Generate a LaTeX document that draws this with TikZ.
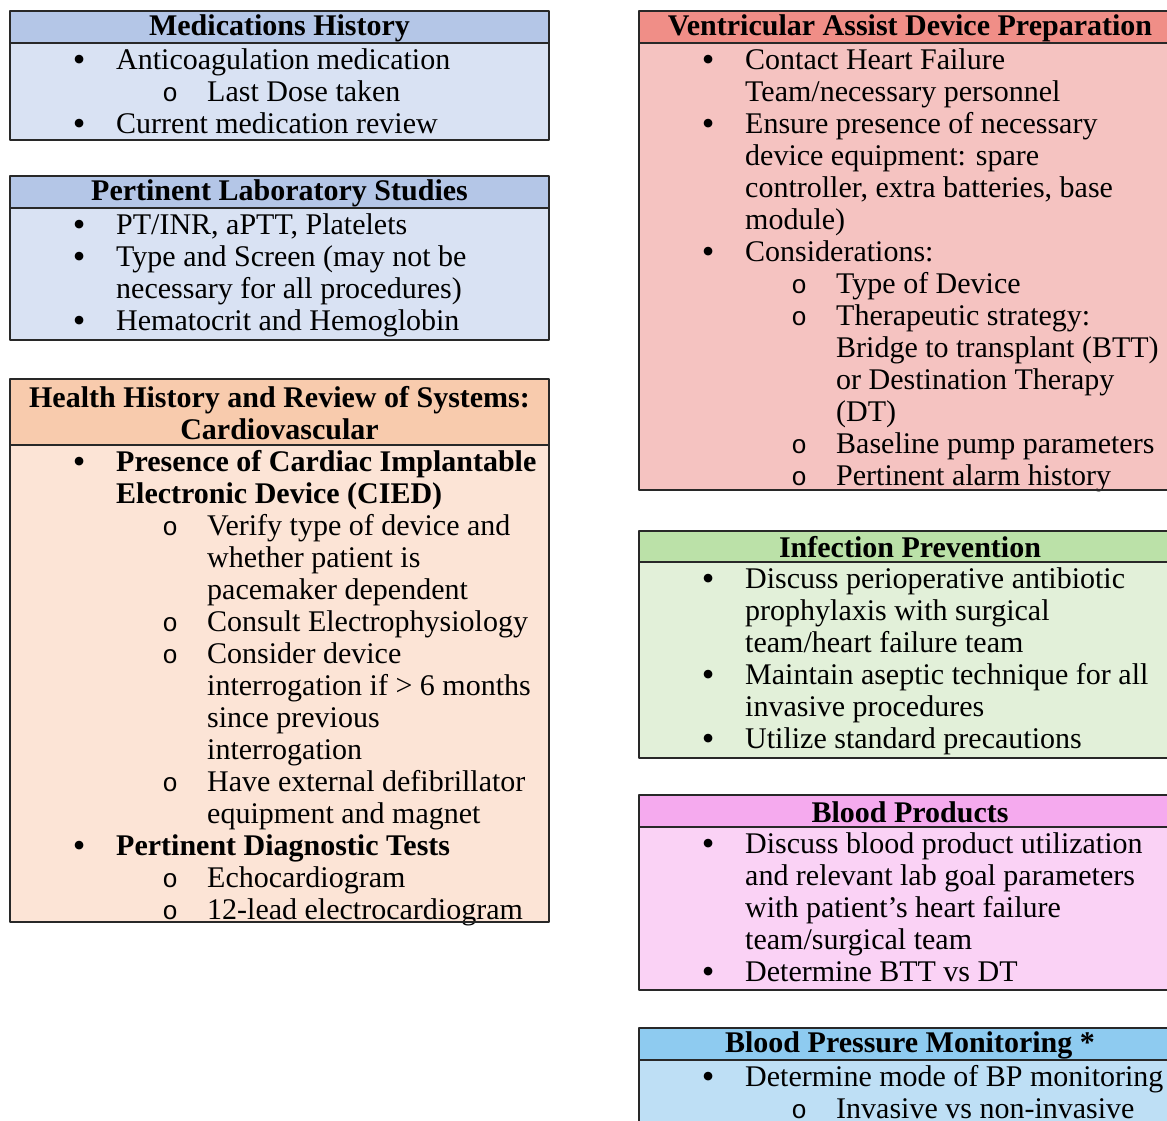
\documentclass[tikz,border=0pt]{standalone}
\usepackage{fontspec}
\setmainfont{Liberation Serif}
\newfontfamily\circfont{Liberation Mono}
\usetikzlibrary{positioning}
\definecolor{panel_line}{RGB}{40,40,40}
\definecolor{med_head}{HTML}{B4C6E7}
\definecolor{med_body}{HTML}{D9E2F3}
\definecolor{health_head}{HTML}{F8CBAD}
\definecolor{health_body}{HTML}{FCE4D6}
\definecolor{vad_head}{HTML}{F08E87}
\definecolor{vad_body}{HTML}{F5C3C1}
\definecolor{inf_head}{HTML}{BBE1A8}
\definecolor{inf_body}{HTML}{E2F0D9}
\definecolor{blood_head}{HTML}{F5AAEE}
\definecolor{blood_body}{HTML}{FAD2F5}
\definecolor{bp_head}{HTML}{8ECBF0}
\definecolor{bp_body}{HTML}{BEDFF5}
\newcommand\fl{\rule{0pt}{26pt}}
\newcommand\lvA[1]{\hspace*{69pt}\makebox[0pt]{\smash{\raisebox{-2.5pt}{\fontsize{36}{32}\selectfont\textbullet}}}\hspace*{37pt}#1}
\newcommand\lvAc[1]{\hspace*{106pt}#1}
\newcommand\lvB[1]{\hspace*{160pt}\makebox[0pt]{\circfont\fontsize{26}{26}\selectfont o}\hspace*{37pt}#1}
\newcommand\lvBc[1]{\hspace*{197pt}#1}
\tikzset{
	panel/.style={draw=panel_line, line width=1.6pt},
	title/.style={font=\fontsize{30}{32}\selectfont\bfseries, align=center, inner sep=0pt},
	items/.style={font=\fontsize{30}{32}\selectfont, align=left, inner sep=0pt, anchor=north west},
}

\begin{document}
\begin{tikzpicture}[x=1pt,y=-1pt,line join=round,line cap=round]
	\useasboundingbox (0,0) rectangle (1167,1120);
	\clip (0,0) rectangle (1167,1120);
	% left column
	\fill[med_body] (10,43) rectangle (549,140);
	\fill[med_head] (10,11) rectangle (549,43);
	\node[title] (medT) at (279.5,28) {Medications History};
	\node[items] (medL) at (10,43) {\fl\lvA{Anticoagulation medication}\\
		\lvB{Last Dose taken}\\
		\lvA{Current medication review}};
	\draw[panel] (10,11) rectangle (549,140) (10,43) -- (549,43);

	\fill[med_body] (10,208) rectangle (549,340);
	\fill[med_head] (10,176) rectangle (549,208);
	\node[title] (labT) at (279.5,193) {Pertinent Laboratory Studies};
	\node[items] (labL) at (10,208) {\fl\lvA{PT/INR, aPTT, Platelets}\\
		\lvA{Type and Screen (may not be}\\
		\lvAc{necessary for all procedures)}\\
		\lvA{Hematocrit and Hemoglobin}};
	\draw[panel] (10,176) rectangle (549,340) (10,208) -- (549,208);

	\fill[health_body] (10,445) rectangle (549,922);
	\fill[health_head] (10,379) rectangle (549,445);
	\node[title] (cardT) at (279.5,413) {Health History and Review of Systems:\\Cardiovascular};
	\node[items] (cardL) at (10,445) {\fl\lvA{\textbf{Presence of Cardiac Implantable}}\\
		\lvAc{\textbf{Electronic Device (CIED)}}\\
		\lvB{Verify type of device and}\\
		\lvBc{whether patient is}\\
		\lvBc{pacemaker dependent}\\
		\lvB{Consult Electrophysiology}\\
		\lvB{Consider device}\\
		\lvBc{interrogation if > 6 months}\\
		\lvBc{since previous}\\
		\lvBc{interrogation}\\
		\lvB{Have external defibrillator}\\
		\lvBc{equipment and magnet}\\
		\lvA{\textbf{Pertinent Diagnostic Tests}}\\
		\lvB{Echocardiogram}\\
		\lvB{12-lead electrocardiogram}};
	\draw[panel] (10,379) rectangle (549,922) (10,445) -- (549,445);

	% right column
	\fill[vad_body] (639,43) rectangle (1181,490);
	\fill[vad_head] (639,11) rectangle (1181,43);
	\node[title] (vadT) at (910,28) {Ventricular Assist Device Preparation};
	\node[items] (vadL) at (639,43) {\fl\lvA{Contact Heart Failure}\\
		\lvAc{Team/necessary personnel}\\
		\lvA{Ensure presence of necessary}\\
		\lvAc{device equipment: spare}\\
		\lvAc{controller, extra batteries, base}\\
		\lvAc{module)}\\
		\lvA{Considerations:}\\
		\lvB{Type of Device}\\
		\lvB{Therapeutic strategy:}\\
		\lvBc{Bridge to transplant (BTT)}\\
		\lvBc{or Destination Therapy}\\
		\lvBc{(DT)}\\
		\lvB{Baseline pump parameters}\\
		\lvB{Pertinent alarm history}};
	\draw[panel] (639,11) rectangle (1181,490) (639,43) -- (1181,43);

	\fill[inf_body] (639,562) rectangle (1181,758);
	\fill[inf_head] (639,531) rectangle (1181,562);
	\node[title] (infT) at (910,547.5) {Infection Prevention};
	\node[items] (infL) at (639,562) {\fl\lvA{Discuss perioperative antibiotic}\\
		\lvAc{prophylaxis with surgical}\\
		\lvAc{team/heart failure team}\\
		\lvA{Maintain aseptic technique for all}\\
		\lvAc{invasive procedures}\\
		\lvA{Utilize standard precautions}};
	\draw[panel] (639,531) rectangle (1181,758) (639,562) -- (1181,562);

	\fill[blood_body] (639,827) rectangle (1181,990);
	\fill[blood_head] (639,795) rectangle (1181,827);
	\node[title] (bloodT) at (910,812) {Blood Products};
	\node[items] (bloodL) at (639,827) {\fl\lvA{Discuss blood product utilization}\\
		\lvAc{and relevant lab goal parameters}\\
		\lvAc{with patient’s heart failure}\\
		\lvAc{team/surgical team}\\
		\lvA{Determine BTT vs DT}};
	\draw[panel] (639,795) rectangle (1181,990) (639,827) -- (1181,827);

	\fill[bp_body] (639,1060) rectangle (1181,1140);
	\fill[bp_head] (639,1028) rectangle (1181,1060);
	\node[title] (bpT) at (910,1045) {Blood Pressure Monitoring *};
	\node[items] (bpL) at (639,1060) {\fl\lvA{Determine mode of BP monitoring}\\
		\lvB{Invasive vs non-invasive}};
	\draw[panel] (639,1028) rectangle (1181,1140) (639,1060) -- (1181,1060);
\end{tikzpicture}
\end{document}
